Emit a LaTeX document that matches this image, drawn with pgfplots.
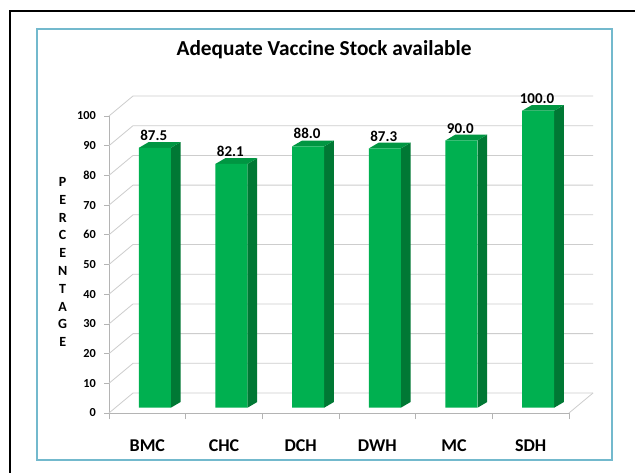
\documentclass[border=0pt]{standalone}
\usepackage{pgfplots}
\pgfplotsset{compat=1.18}
\usepackage{fontspec}
\setmainfont{Carlito}
\definecolor{gridgray}{RGB}{205,205,205}
\definecolor{axgray}{RGB}{180,180,180}
\definecolor{barfront}{RGB}{0,176,80}
\definecolor{barside}{RGB}{0,120,52}
\definecolor{bartop}{RGB}{0,150,66}
\definecolor{frameblue}{RGB}{115,185,205}
\begin{document}
\begin{tikzpicture}
\useasboundingbox (0,0) rectangle (476.25pt,-354pt);
\begin{scope}[x=0.75pt,y=-0.75pt]
\fill[white] (0,0) rectangle (635,472);
\draw[black, line width=1.6pt] (10,11) rectangle (660,490);
\draw[frameblue, line width=1.5pt] (37,29) rectangle (612,460);
\node[anchor=base, font=\bfseries\fontsize{16}{19}\selectfont] at (324,55) {Adequate Vaccine Stock available};
\node[align=center, font=\bfseries\fontsize{10.5}{13.35}\selectfont, inner sep=0pt] at (62.7,262) {P\\E\\R\\C\\E\\N\\T\\A\\G\\E};
\end{scope}
% front plane axis: walls, grid, ticks
\begin{axis}[
  at={(81.75pt,-309.75pt)}, anchor=south west,
  width=345pt, height=222.75pt, scale only axis,
  xmin=-0.5, xmax=5.5, ymin=0, ymax=100, clip=false,
  axis x line*=bottom, axis y line*=left,
  axis line style={draw=axgray, line width=0.6pt, -},
  tick align=outside, tick style={draw=axgray, line width=0.6pt},
  xtick={0,1,2,3,4,5},
  xticklabels={BMC,CHC,DCH,DWH,MC,SDH},
  minor xtick={-0.5,0.5,1.5,2.5,3.5,4.5,5.5},
  major x tick style={draw=none},
  minor tick length=4.5pt, major tick length=3.75pt,
  ytick={0,10,...,100},
  /pgf/number format/assume math mode=true,
  xticklabel style={font=\bfseries\fontsize{13.5}{16}\selectfont, anchor=north, inner sep=0pt, yshift=-16pt},
  yticklabel style={font=\bfseries\fontsize{9.2}{11}\selectfont, anchor=east, inner sep=0pt, xshift=-6pt},
]
\pgfplotsinvokeforeach{0,10,20,30,40,50,60,70,80,90,100}{
  \draw[gridgray, line width=0.6pt] (axis cs:-0.5,#1) -- ++(18pt,15pt) -- ++(345pt,0pt);
}
\draw[gridgray, line width=0.6pt] (axis cs:5.5,0) -- ++(18pt,15pt);
\end{axis}
% bar plane axis (shifted into depth)
\begin{axis}[
  at={(86.55pt,-305.775pt)}, anchor=south west,
  width=345pt, height=222.75pt, scale only axis,
  xmin=-0.5, xmax=5.5, ymin=0, ymax=100, clip=false,
  hide axis,
  /pgf/number format/assume math mode=true,
]
% side faces
\addplot[fill=barside, draw=none] coordinates {(0.223,0)(0.350,1.92)(0.350,89.42)(0.223,87.5)} -- cycle;
\addplot[fill=barside, draw=none] coordinates {(1.223,0)(1.350,1.92)(1.350,84.02)(1.223,82.1)} -- cycle;
\addplot[fill=barside, draw=none] coordinates {(2.223,0)(2.350,1.92)(2.350,89.92)(2.223,88.0)} -- cycle;
\addplot[fill=barside, draw=none] coordinates {(3.223,0)(3.350,1.92)(3.350,89.22)(3.223,87.3)} -- cycle;
\addplot[fill=barside, draw=none] coordinates {(4.223,0)(4.350,1.92)(4.350,91.92)(4.223,90.0)} -- cycle;
\addplot[fill=barside, draw=none] coordinates {(5.223,0)(5.350,1.92)(5.350,101.92)(5.223,100.0)} -- cycle;
% top faces
\addplot[fill=bartop, draw=none] coordinates {(-0.194,87.5)(-0.067,89.42)(0.350,89.42)(0.223,87.5)} -- cycle;
\addplot[fill=bartop, draw=none] coordinates {(0.806,82.1)(0.933,84.02)(1.350,84.02)(1.223,82.1)} -- cycle;
\addplot[fill=bartop, draw=none] coordinates {(1.806,88.0)(1.933,89.92)(2.350,89.92)(2.223,88.0)} -- cycle;
\addplot[fill=bartop, draw=none] coordinates {(2.806,87.3)(2.933,89.22)(3.350,89.22)(3.223,87.3)} -- cycle;
\addplot[fill=bartop, draw=none] coordinates {(3.806,90.0)(3.933,91.92)(4.350,91.92)(4.223,90.0)} -- cycle;
\addplot[fill=bartop, draw=none] coordinates {(4.806,100.0)(4.933,101.92)(5.350,101.92)(5.223,100.0)} -- cycle;
% front faces with value labels
\addplot[ybar, bar width=24pt, bar shift=0.8pt, fill=barfront, draw=none,
  nodes near coords={\pgfmathprintnumber[fixed,zerofill,precision=1]{\pgfplotspointmeta}},
  nodes near coords style={anchor=south, inner sep=0pt, yshift=5.25pt, font=\bfseries\fontsize{11.25}{13}\selectfont, text=black}]
  coordinates {(0,87.5) (1,82.1) (2,88.0) (3,87.3) (4,90.0) (5,100.0)};
\end{axis}
\end{tikzpicture}
\end{document}
